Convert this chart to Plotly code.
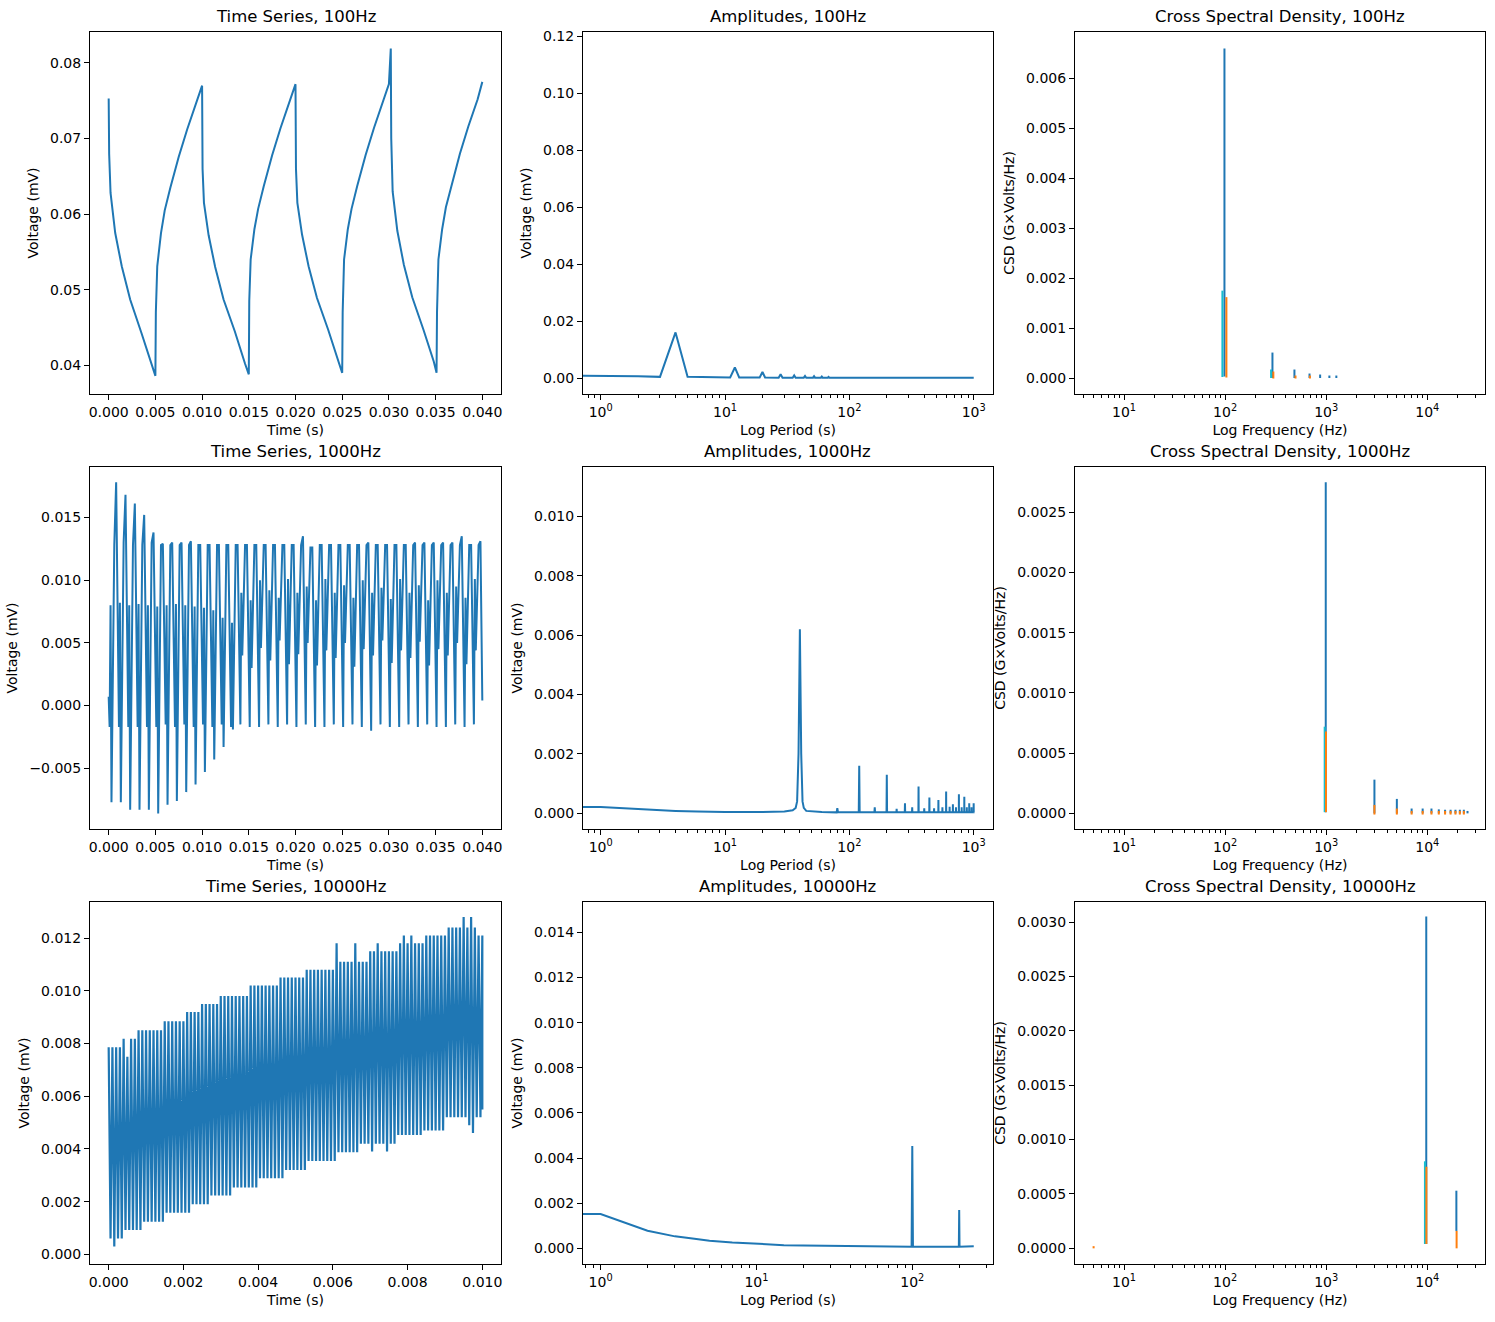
import numpy as np
import plotly.graph_objects as go

BLUE = "#1f77b4"
ORANGE = "#ff7f0e"
CYAN = "#17becf"

# ---------------- time series, 100Hz ----------------
ts100_t = [0.0, 0.00005, 0.0002, 0.0007, 0.0014, 0.0023, 0.0035, 0.0046, 0.005,
           0.00505, 0.0052, 0.0056, 0.006, 0.0066, 0.0075, 0.0084, 0.0094, 0.01,
           0.01005, 0.0102, 0.0107, 0.0114, 0.0123, 0.0135, 0.0146, 0.015,
           0.01505, 0.0152, 0.0156, 0.016, 0.0166, 0.0175, 0.0184, 0.0194, 0.02,
           0.02005, 0.0202, 0.0207, 0.0214, 0.0223, 0.0235, 0.0246, 0.025,
           0.02505, 0.0252, 0.0256, 0.026, 0.0266, 0.0275, 0.0284, 0.0294, 0.03, 0.0302,
           0.03025, 0.0304, 0.0309, 0.0316, 0.0325, 0.0337, 0.0348, 0.0351,
           0.03515, 0.0353, 0.0357, 0.0361, 0.0367, 0.0376, 0.0385, 0.0395, 0.04]
ts100_v = [0.0753, 0.068, 0.0628, 0.0575, 0.0531, 0.0487, 0.0443, 0.0400, 0.0386,
           0.047, 0.0531, 0.0575, 0.0605, 0.0635, 0.0676, 0.0712, 0.0750, 0.0770,
           0.066, 0.0615, 0.0572, 0.0530, 0.0487, 0.0445, 0.0402, 0.0388,
           0.0485, 0.0540, 0.0580, 0.0607, 0.0637, 0.0678, 0.0714, 0.0752, 0.0772,
           0.0660, 0.0615, 0.0573, 0.0531, 0.0489, 0.0447, 0.0405, 0.0390,
           0.047, 0.054, 0.058, 0.0607, 0.0637, 0.0678, 0.0714, 0.0750, 0.0772, 0.0819,
           0.0700, 0.0630, 0.0578, 0.0533, 0.0490, 0.0447, 0.0405, 0.0390,
           0.047, 0.054, 0.058, 0.0609, 0.0639, 0.0680, 0.0716, 0.0752, 0.0775]

# ---------------- time series, 1000Hz: one entry per cycle ----------------
ts1000_start = 0.0007
ts1000_end = 0.0004
ts1000_shallow = [-0.0017, -0.0017, -0.0017, -0.0017, -0.0017, -0.0017, -0.0015, -0.0017, -0.0015, -0.0017,
                  -0.0015, -0.0017, -0.0015, -0.0017, -0.0015, -0.0017, -0.0017, -0.0015, -0.0017, -0.0015,
                  -0.0017, -0.0015, -0.0017, -0.0017, -0.0015, -0.0017, -0.0015, -0.0017, -0.0020, -0.0015,
                  -0.0017, -0.0017, -0.0015, -0.0017, -0.0015, -0.0017, -0.0017, -0.0015, -0.0017, -0.0015]
ts1000_mid = [0.0080, 0.0082, 0.0080, 0.0081, 0.0080, 0.0079, 0.0080, 0.0081, 0.0080, 0.0079,
              0.0078, 0.0076, 0.0070, 0.0066, 0.0090, 0.0084, 0.0100, 0.0092, 0.0086, 0.0101,
              0.0090, 0.0095, 0.0084, 0.0101, 0.0090, 0.0096, 0.0086, 0.0100, 0.0090, 0.0094,
              0.0085, 0.0101, 0.0090, 0.0096, 0.0084, 0.0100, 0.0090, 0.0095, 0.0086, 0.0101]
ts1000_dip = [-0.0077, -0.0077, -0.0083, -0.0083, -0.0083, -0.0086, -0.0079, -0.0076, -0.0069, -0.0063,
              -0.0053, -0.0043, -0.0033, -0.0019, 0.0040, 0.0030, 0.0046, 0.0036, 0.0052, 0.0033,
              0.0041, 0.0050, 0.0032, 0.0044, 0.0038, 0.0050, 0.0031, 0.0045, 0.0040, 0.0052,
              0.0034, 0.0044, 0.0038, 0.0051, 0.0032, 0.0045, 0.0040, 0.0050, 0.0033, 0.0044]
ts1000_hi = [0.0128, 0.0130, 0.0128, 0.0128, 0.0130, 0.0128, 0.0128, 0.0128, 0.0128, 0.0128,
             0.0128, 0.0128, 0.0128, 0.0128, 0.0128, 0.0128, 0.0128, 0.0128, 0.0128, 0.0128,
             0.0128, 0.0126, 0.0128, 0.0128, 0.0128, 0.0128, 0.0128, 0.0128, 0.0128, 0.0128,
             0.0128, 0.0128, 0.0128, 0.0128, 0.0128, 0.0128, 0.0128, 0.0128, 0.0128, 0.0128]
ts1000_spike = [0.0178, 0.0168, 0.0161, 0.0152, 0.0138, 0.0129, 0.0130, 0.0130, 0.0131, 0.0128,
                0.0128, 0.0128, 0.0128, 0.0128, 0.0128, 0.0128, 0.0128, 0.0128, 0.0128, 0.0128,
                0.0135, 0.0126, 0.0128, 0.0128, 0.0128, 0.0128, 0.0128, 0.0130, 0.0128, 0.0128,
                0.0128, 0.0128, 0.0130, 0.0130, 0.0130, 0.0130, 0.0130, 0.0135, 0.0128, 0.0131]
ts1000_period = 0.001
ts1000_offsets = [0.0001, 0.0002, 0.0003, 0.0006, 0.0008]

# ---------------- time series, 10000Hz: one peak / trough per cycle ----------------
ts10000_hi = ([0.00786] * 4 + [0.00818, 0.0075, 0.00818, 0.00818] + [0.0085] * 7 + [0.00884] * 6
              + [0.0092] * 4 + [0.0095] * 5 + [0.0098] * 8 + [0.0102] * 8 + [0.0105] * 7 + [0.0108] * 8
              + [0.0118, 0.0111, 0.0111, 0.0111, 0.0111, 0.0118, 0.0111, 0.0111, 0.0111]
              + [0.0115, 0.0115, 0.0118, 0.0115, 0.0115, 0.0115, 0.0115, 0.0115]
              + [0.0118, 0.0121, 0.0118, 0.0121, 0.0118, 0.0118, 0.0118] + [0.0121] * 6 + [0.0124] * 4
              + [0.0128, 0.0124, 0.0128, 0.0124, 0.0121])
ts10000_lo = ([0.0006, 0.0003, 0.0006, 0.0006] + [0.00092] * 5 + [0.00124] * 6 + [0.00158] * 7 + [0.0019] * 5
              + [0.00223] * 6 + [0.00254] * 7 + [0.00289] * 7 + [0.0032] * 6 + [0.00354] * 8 + [0.00387] * 6
              + [0.0042, 0.0042, 0.0042, 0.0039, 0.0042, 0.0042, 0.0042, 0.0039, 0.0042, 0.0042]
              + [0.00453] * 7 + [0.0047] * 6 + [0.0052] * 6 + [0.0049, 0.0046, 0.0052, 0.0052])
ts10000_period = 0.0001
ts10000_end = [0.0121, 0.0055]

# ---------------- amplitudes ----------------
amp100_x = [0.5, 1, 2, 3, 4, 5, 8, 11, 12, 13, 19, 20, 21, 27, 28, 29, 35, 36, 37,
            43, 44, 45, 51, 52, 53, 59, 60, 61, 67, 68, 69, 75, 76, 77, 150, 400, 1000]
amp100_y = [0.0008, 0.0008, 0.0006, 0.0004, 0.016, 0.0004, 0.0003, 0.0002, 0.0037, 0.0002,
            0.0002, 0.0021, 0.0002, 0.0001, 0.0013, 0.0001, 0.0001, 0.0009, 0.0001,
            0.0001, 0.0007, 0.0001, 0.0001, 0.0006, 0.0001, 0.0001, 0.0005, 0.0001,
            0.0001, 0.0004, 0.0001, 0.0001, 0.0003, 0.0001, 0.0001, 0.0001, 0.0001]

amp1000_base_x = [0.5, 1, 2, 3, 4, 6, 10, 20, 30, 35, 37, 38, 39, 40, 41, 42, 43, 45, 60, 1000]
amp1000_base_y = [0.00022, 0.00021, 0.00014, 0.0001, 0.00008, 0.00006, 0.00004, 0.00004, 0.00006,
                  0.0001, 0.00018, 0.0004, 0.0020, 0.0062, 0.0020, 0.0004, 0.00018, 0.00008, 0.00004, 0.00003]
amp1000_peak_x = [80, 120, 160, 200, 240, 280, 320, 360, 400, 440, 480, 520, 560,
                  600, 640, 680, 720, 760, 800, 840, 880, 920, 960, 999]
amp1000_peak_y = [0.00017, 0.0016, 0.0002, 0.0013, 0.00015, 0.00034, 0.0002, 0.0009, 0.00017, 0.00053,
                  0.00017, 0.00045, 0.0002, 0.00073, 0.00022, 0.0003, 0.0002, 0.00064, 0.0002, 0.00056,
                  0.0002, 0.00034, 0.0002, 0.00034]
amp1000_floor = 0.00003

amp10000_x = [0.5, 1, 2, 3, 4, 5, 7, 10, 15, 20, 30, 50, 99, 100, 101, 150, 199, 200, 201, 248]
amp10000_y = [0.00152, 0.00152, 0.00078, 0.00053, 0.00042, 0.00034, 0.00026, 0.00019, 0.00014, 0.00012,
              0.0001, 0.00008, 0.00007, 0.00454, 0.00007, 0.00007, 0.00007, 0.0017, 0.00007, 0.00009]

# ---------------- cross spectral density stems: (freq, bottom, top) ----------------
csd100_blue = dict(f=[98.5, 294, 485, 684, 871, 1075, 1260],
                   lo=[0.00003, 0, 0, 0, 0, 0, 0],
                   hi=[0.0066, 0.00051, 0.00017, 0.00009, 0.00007, 0.00005, 0.00005])
csd100_cyan = dict(f=[94, 285], lo=[0.00002, 0], hi=[0.00175, 0.00017])
csd100_orange = dict(f=[103, 300, 497, 690], lo=[0.00001, -0.00001, -0.00001, -0.00001],
                     hi=[0.00162, 0.00013, 0.00005, 0.00005])

csd1000_blue = dict(f=[990, 3000, 5000, 7000, 9000, 11000, 13000, 15000, 17000, 19000, 21000, 23000, 25000],
                    lo=[0.00001, 0, 0, 0, 0, 0, 0, 0, 0, 0, 0, 0, 0],
                    hi=[0.00275, 0.00028, 0.00012, 0.00004, 0.00004, 0.00004, 0.000033, 0.00003,
                        0.00003, 0.00003, 0.00003, 0.00003, 0.00002])
csd1000_cyan = dict(f=[966], lo=[0.00001], hi=[0.00072])
csd1000_orange = dict(f=[995, 3000, 5000, 7000, 9000, 11000, 13000, 15000, 17000, 19000, 21000, 23000],
                      lo=[0.00001, -0.00001, -0.00001, -0.00001, -0.00001, -0.00001, -0.00001,
                          -0.00001, -0.00001, -0.00001, -0.00001, -0.00001],
                      hi=[0.00068, 0.00007, 0.00004, 0.00002, 0.00002, 0.00002, 0.00002, 0.00002,
                          0.00002, 0.00002, 0.00002, 0.00002])

csd10000_blue = dict(f=[9770, 19400], lo=[0.00004, 0.00016], hi=[0.00305, 0.00053])
csd10000_cyan = dict(f=[9480], lo=[0.00004], hi=[0.0008])
csd10000_orange = dict(f=[5.0, 9800, 19500], lo=[0, 0.00004, 0], hi=[0.00002, 0.00075, 0.00016])

titles = ["Time Series, 100Hz", "Amplitudes, 100Hz", "Cross Spectral Density, 100Hz",
          "Time Series, 1000Hz", "Amplitudes, 1000Hz", "Cross Spectral Density, 1000Hz",
          "Time Series, 10000Hz", "Amplitudes, 10000Hz", "Cross Spectral Density, 10000Hz"]


def build_ts1000():
    t, v = [0.0], [ts1000_start]
    for k in range(len(ts1000_hi)):
        t0 = k * ts1000_period
        vals = [ts1000_shallow[k], ts1000_mid[k], ts1000_dip[k], ts1000_hi[k], ts1000_spike[k]]
        for off, val in zip(ts1000_offsets, vals):
            t.append(t0 + off)
            v.append(val)
    t.append(len(ts1000_hi) * ts1000_period)
    v.append(ts1000_end)
    return t, v


def build_ts10000():
    t, v = [], []
    for k, (h, l) in enumerate(zip(ts10000_hi, ts10000_lo)):
        t += [k * ts10000_period, (k + 0.5) * ts10000_period]
        v += [h, l]
    tend = len(ts10000_hi) * ts10000_period
    t += [tend, tend]
    v += ts10000_end
    return t, v


def build_amp1000():
    pts = list(zip(amp1000_base_x, amp1000_base_y))
    for p, h in zip(amp1000_peak_x, amp1000_peak_y):
        pts += [(p - 1, amp1000_floor), (p, h), (p + 1, amp1000_floor)]
    pts.sort()
    return [p[0] for p in pts], [p[1] for p in pts]


def stems(d):
    xs, ys = [], []
    for f, lo, hi in zip(d["f"], d["lo"], d["hi"]):
        xs += [f, f, None]
        ys += [lo, hi, None]
    return xs, ys


W, H = 1495, 1322
col_px = [(90, 501), (583, 993), (1075, 1485)]
row_px = [(32, 394), (467, 829), (902, 1264)]

fig = go.Figure()


def add_line(i, x, y, color=BLUE, width=2):
    ax = "" if i == 1 else str(i)
    fig.add_trace(go.Scatter(x=x, y=y, mode="lines", line=dict(color=color, width=width),
                             xaxis="x" + ax, yaxis="y" + ax, showlegend=False, hoverinfo="skip"))


add_line(1, ts100_t, ts100_v)
add_line(2, amp100_x, amp100_y)
for d, c in [(csd100_blue, BLUE), (csd100_cyan, CYAN), (csd100_orange, ORANGE)]:
    add_line(3, *stems(d), color=c, width=2)

add_line(4, *build_ts1000())
add_line(5, *build_amp1000())
for d, c in [(csd1000_blue, BLUE), (csd1000_cyan, CYAN), (csd1000_orange, ORANGE)]:
    add_line(6, *stems(d), color=c, width=2)

add_line(7, *build_ts10000(), width=2.2)
add_line(8, amp10000_x, amp10000_y)
for d, c in [(csd10000_blue, BLUE), (csd10000_cyan, CYAN), (csd10000_orange, ORANGE)]:
    add_line(9, *stems(d), color=c, width=2)

FONT = "DejaVu Sans"
base_axis = dict(showline=True, mirror=True, linecolor="black", linewidth=1,
                 ticks="outside", ticklen=5, tickwidth=1, tickcolor="black",
                 showgrid=False, zeroline=False, automargin=False,
                 tickfont=dict(family=FONT, size=14, color="black"))

lin_x = {
    1: dict(range=[-0.002, 0.042], tick0=0, dtick=0.005, tickformat=".3f"),
    4: dict(range=[-0.002, 0.042], tick0=0, dtick=0.005, tickformat=".3f"),
    7: dict(range=[-0.0005, 0.0105], tick0=0, dtick=0.002, tickformat=".3f"),
}
log_x = {
    2: ([-0.142, 3.155], [1, 10, 100, 1000]),
    5: ([-0.142, 3.155], [1, 10, 100, 1000]),
    8: ([-0.113, 2.518], [1, 10, 100]),
    3: ([0.515, 4.571], [10, 100, 1000, 10000]),
    6: ([0.515, 4.571], [10, 100, 1000, 10000]),
    9: ([0.515, 4.571], [10, 100, 1000, 10000]),
}
y_axes = {
    1: dict(range=[0.0362, 0.0841], dtick=0.01, tickformat=".2f"),
    2: dict(range=[-0.00562, 0.1215], dtick=0.02, tickformat=".2f"),
    3: dict(range=[-0.00032, 0.00693], dtick=0.001, tickformat=".3f"),
    4: dict(range=[-0.00984, 0.01902], dtick=0.005, tickformat=".3f"),
    5: dict(range=[-0.00053, 0.01166], dtick=0.002, tickformat=".3f"),
    6: dict(range=[-0.00013, 0.002877], dtick=0.0005, tickformat=".4f"),
    7: dict(range=[-0.000367, 0.01337], dtick=0.002, tickformat=".3f"),
    8: dict(range=[-0.000695, 0.01535], dtick=0.002, tickformat=".3f"),
    9: dict(range=[-0.000144, 0.003184], dtick=0.0005, tickformat=".4f"),
}
x_titles = {1: "Time (s)", 2: "Log Period (s)", 3: "Log Frequency (Hz)"}
y_titles = {1: "Voltage (mV)", 2: "Voltage (mV)", 3: "CSD (G×Volts/Hz)"}

minor_vals = [m * 10.0 ** e for e in range(-1, 5) for m in range(2, 10)]
title_font = dict(family=FONT, size=14, color="black")

layout = {}
annotations = []
for i in range(1, 10):
    r, c = (i - 1) // 3, (i - 1) % 3
    ax = "" if i == 1 else str(i)
    xd = [col_px[c][0] / W, col_px[c][1] / W]
    yd = [1 - row_px[r][1] / H, 1 - row_px[r][0] / H]

    xa = dict(base_axis, domain=xd, anchor="y" + ax,
              title=dict(text=x_titles[c + 1], font=title_font, standoff=6))
    if i in lin_x:
        xa.update(tickmode="linear", **lin_x[i])
    else:
        rng, majors = log_x[i]
        xa.update(type="log", range=rng, tickmode="array", tickvals=majors,
                  ticktext=["10<sup>%d</sup>" % int(np.log10(v)) for v in majors],
                  minor=dict(tickmode="array", tickvals=minor_vals, ticks="outside",
                             ticklen=3, tickwidth=0.8, tickcolor="black", showgrid=False))
    ya = dict(base_axis, domain=yd, anchor="x" + ax, tickmode="linear", tick0=0,
              title=dict(text=y_titles[c + 1], font=title_font, standoff=8), **y_axes[i])
    layout["xaxis" + ax] = xa
    layout["yaxis" + ax] = ya

    annotations.append(dict(text=titles[i - 1], xref="paper", yref="paper",
                            x=(xd[0] + xd[1]) / 2, y=yd[1], xanchor="center", yanchor="bottom",
                            yshift=4, showarrow=False,
                            font=dict(family=FONT, size=16.5, color="black")))

fig.update_layout(**layout)
fig.update_layout(width=W, height=H, margin=dict(l=0, r=0, t=0, b=0, autoexpand=False),
                  paper_bgcolor="white", plot_bgcolor="white",
                  font=dict(family=FONT, color="black"),
                  annotations=annotations, showlegend=False)

# the page body has a default 8px margin; drop it so the figure sits at the window origin
fig.write_html("out.html", config={"displayModeBar": False},
               post_script="document.body.style.margin='0';")
